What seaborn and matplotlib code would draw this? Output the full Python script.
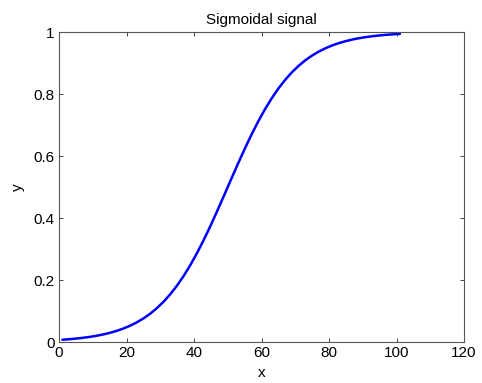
import matplotlib
matplotlib.use("Agg")
import matplotlib.pyplot as plt
import seaborn as sns
import pandas as pd

x_vals = [1, 3, 5, 7, 9, 11, 13, 15, 17, 19, 21, 23, 25, 27, 29, 31, 33, 35, 37, 39, 41,
          43, 45, 47, 49, 51, 53, 55, 57, 59, 61, 63, 65, 67, 69, 71, 73, 75, 77, 79, 81,
          83, 85, 87, 89, 91, 93, 95, 97, 99, 101]
y_vals = [0.0074, 0.0090, 0.0110, 0.0134, 0.0163, 0.0198, 0.0241, 0.0293, 0.0356, 0.0431,
          0.0522, 0.0630, 0.0759, 0.0911, 0.1091, 0.1301, 0.1545, 0.1824, 0.2142, 0.2497,
          0.2891, 0.3318, 0.3775, 0.4256, 0.4750, 0.5250, 0.5744, 0.6225, 0.6682, 0.7109,
          0.7503, 0.7858, 0.8176, 0.8455, 0.8699, 0.8909, 0.9089, 0.9241, 0.9370, 0.9478,
          0.9569, 0.9644, 0.9707, 0.9759, 0.9802, 0.9837, 0.9866, 0.9890, 0.9910, 0.9926,
          0.9939]
x_ticks = [0, 20, 40, 60, 80, 100, 120]
y_ticks = [0, 0.2, 0.4, 0.6, 0.8, 1]
y_tick_labels = ["0", "0.2", "0.4", "0.6", "0.8", "1"]

sns.set_style("ticks")
plt.rcParams['font.family'] = ['Liberation Sans', 'DejaVu Sans']
plt.rcParams['text.color'] = 'black'
plt.rcParams['axes.labelcolor'] = 'black'

df = pd.DataFrame({"x": x_vals, "y": y_vals})

fig = plt.figure(figsize=(4.82, 3.83), dpi=100)
ax = fig.add_axes([59/482, 1-342/383, (464-59)/482, (342-32)/383])
sns.lineplot(data=df, x="x", y="y", ax=ax, color=(0, 0, 1), linewidth=1.8)

fs = 11
ax.set_xlim(0, 120)
ax.set_ylim(0, 1)
ax.set_xticks(x_ticks)
ax.set_yticks(y_ticks)
ax.set_yticklabels(y_tick_labels)
ax.tick_params(direction='in', top=True, right=True, length=3, width=0.7,
               colors='#444444', labelcolor='black', labelsize=fs, pad=3)
for s in ax.spines.values():
    s.set_color('#555555')
    s.set_linewidth(0.8)
    s.set_visible(True)
ax.set_xlabel("x", fontsize=fs, labelpad=4, color='black')
ax.set_ylabel("y", fontsize=fs, labelpad=6, color='black')
ax.set_title("Sigmoidal signal", fontsize=fs, pad=6, color='black')

fig.savefig("out.png", dpi=100)
